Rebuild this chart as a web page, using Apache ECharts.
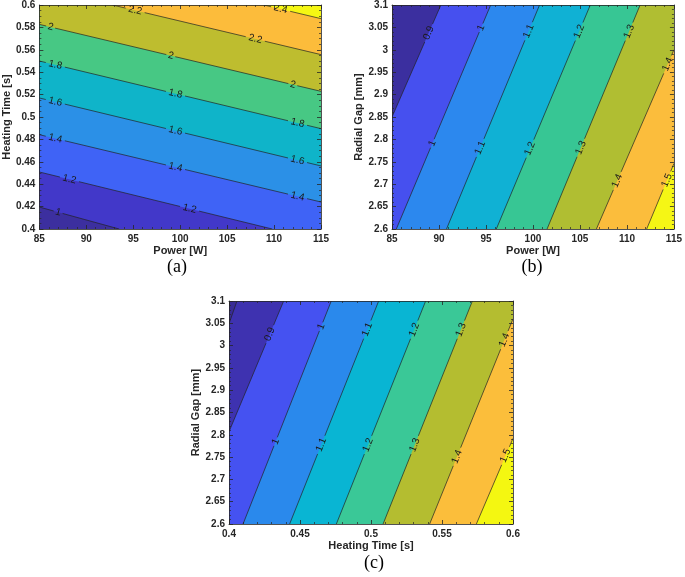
<!DOCTYPE html>
<html><head><meta charset="utf-8">
<script src="https://cdn.jsdelivr.net/npm/echarts@6/dist/echarts.min.js"></script>
<style>html,body{margin:0;padding:0;background:#fff}#c{width:685px;height:577px}</style>
</head><body><div id="c"></div>
<script>
// ---------- data ----------
// Panel (a): Power [W] vs Heating Time [s]
const aXRange = [85, 115];
const aYRange = [0.4, 0.6];
const aLevels = [1, 1.2, 1.4, 1.6, 1.8, 2, 2.2, 2.4];
const aLines = [ // contour line endpoints [x1,y1,x2,y2]
  [85, 0.4196, 93.5, 0.4],
  [85, 0.4509, 109.8, 0.4],
  [85, 0.4842, 115, 0.4241],
  [85, 0.517, 115, 0.4563],
  [85, 0.55, 115, 0.4896],
  [85, 0.5827, 115, 0.5229],
  [92.8, 0.6, 115, 0.5557],
  [108.9, 0.6, 115, 0.5878]
];
const aLabels = [ // [level, x, y]
  [1, 87, 0.415],
  [1.2, 88.2, 0.4443], [1.2, 101, 0.4181],
  [1.4, 86.7, 0.4808], [1.4, 99.5, 0.4552], [1.4, 112.5, 0.4291],
  [1.6, 86.7, 0.5136], [1.6, 99.5, 0.4877], [1.6, 112.5, 0.4614],
  [1.8, 86.7, 0.5466], [1.8, 99.5, 0.5208], [1.8, 112.5, 0.4946],
  [2, 86.2, 0.5803], [2, 99, 0.5548], [2, 112, 0.5289],
  [2.2, 95.2, 0.5952], [2.2, 108, 0.5697],
  [2.4, 110.7, 0.5964]
];
// Panel (b): Power [W] vs Radial Gap [mm]
const bXRange = [85, 115];
const bYRange = [2.6, 3.1];
const bLevels = [0.9, 1, 1.1, 1.2, 1.3, 1.4, 1.5];
const bLines = [
  [85, 2.85, 90.2, 3.1],
  [85.46, 2.6, 95.5, 3.1],
  [90.8, 2.6, 100.7, 3.1],
  [96.1, 2.6, 106.1, 3.1],
  [101.5, 2.6, 111.4, 3.1],
  [106.75, 2.6, 115, 3.0],
  [112.1, 2.6, 115, 2.746]
];
const bLabels = [
  [0.9, 88.9, 3.0375],
  [1, 94.5, 3.049], [1, 89.2, 2.792],
  [1.1, 99.7, 3.04], [1.1, 94.4, 2.781],
  [1.2, 105, 3.04], [1.2, 99.5, 2.781],
  [1.3, 110.3, 3.04], [1.3, 104.9, 2.783],
  [1.4, 114.05, 2.97], [1.4, 108.8, 2.709],
  [1.5, 114.2, 2.709]
];
// Panel (c): Heating Time [s] vs Radial Gap [mm]
const cXRange = [0.4, 0.6];
const cYRange = [2.6, 3.1];
const cLevels = [0.8, 0.9, 1, 1.1, 1.2, 1.3, 1.4, 1.5];
const cLines = [
  [0.4, 3.049, 0.4056, 3.1],
  [0.4, 2.807, 0.4385, 3.1],
  [0.4099, 2.6, 0.472, 3.1],
  [0.4427, 2.6, 0.5054, 3.1],
  [0.4756, 2.6, 0.5385, 3.1],
  [0.5085, 2.6, 0.5714, 3.1],
  [0.5413, 2.6, 0.6, 3.06],
  [0.5742, 2.6, 0.6, 2.792]
];
const cLabels = [
  [0.9, 0.4301, 3.0238],
  [1, 0.4653, 3.042], [1, 0.4331, 2.7845],
  [1.1, 0.4981, 3.035], [1.1, 0.4653, 2.777],
  [1.2, 0.531, 3.035], [1.2, 0.4981, 2.777],
  [1.3, 0.5639, 3.035], [1.3, 0.531, 2.777],
  [1.4, 0.5937, 3.0126], [1.4, 0.5604, 2.751],
  [1.5, 0.5932, 2.755]
];

// ---------- styles ----------
const aColors = ['#3c2f9f','#4238c9','#3f63f6','#2b90e7','#0fb4c9','#47c884','#bebd2f','#fcbc3b','#f5f713'];
const bColors = ['#3b2f9f','#4650ef','#2c88ee','#10b1d4','#37c694','#b0be32','#fbbd3c','#f5f615'];
const cColors = ['#382b96','#3e32b0','#4552f1','#2a89ec','#09b5d3','#3ac897','#b4bd30','#fbbe3b','#f4f711'];

const chart = echarts.init(document.getElementById('c'));

function clipHalf(poly, a, b, s) {
  const out = [];
  const f = p => ((b[0]-a[0])*(p[1]-a[1]) - (b[1]-a[1])*(p[0]-a[0])) * s;
  for (let i = 0; i < poly.length; i++) {
    const p = poly[i], q = poly[(i+1) % poly.length];
    const fp = f(p), fq = f(q);
    if (fp >= 0) out.push(p);
    if ((fp >= 0) !== (fq >= 0)) {
      const t = fp / (fp - fq);
      out.push([p[0] + t*(q[0]-p[0]), p[1] + t*(q[1]-p[1])]);
    }
  }
  return out;
}

function contourRenderer(P) {
  return function (params, api) {
    const c = p => api.coord(p);
    const rect = [[P.xr[0],P.yr[0]],[P.xr[1],P.yr[0]],[P.xr[1],P.yr[1]],[P.xr[0],P.yr[1]]].map(c);
    const ref = c(P.high);
    const kids = [{type:'polygon', shape:{points:rect}, style:{fill:P.colors[0]}}];
    const segs = P.lines.map(l => [c([l[0],l[1]]), c([l[2],l[3]])]);
    segs.forEach(([a,b], k) => {
      const s = Math.sign((b[0]-a[0])*(ref[1]-a[1]) - (b[1]-a[1])*(ref[0]-a[0]));
      const poly = clipHalf(rect, a, b, s);
      if (poly.length > 2) kids.push({type:'polygon', shape:{points:poly}, style:{fill:P.colors[k+1]}});
    });
    segs.forEach(([a,b], k) => {
      const lv = P.levels[k];
      const dx = b[0]-a[0], dy = b[1]-a[1], L = Math.hypot(dx, dy);
      let rot = -Math.atan2(dy, dx);
      if (rot > Math.PI/2) rot -= Math.PI;
      if (rot < -Math.PI/2) rot += Math.PI;
      const txt = String(lv);
      const gaps = [];
      P.labels.filter(q => q[0] === lv).forEach(q => {
        const p = c([q[1], q[2]]);
        const t = ((p[0]-a[0])*dx + (p[1]-a[1])*dy) / (L*L);
        const half = (txt.length*5.2 + 4) / 2 / L;
        gaps.push([t-half, t+half]);
        kids.push({type:'text', x:a[0]+t*dx, y:a[1]+t*dy, rotation:rot, z2:10,
          style:{text:txt, fill:'#1a1a1a', fontSize:10, fontFamily:'Liberation Sans', align:'center', verticalAlign:'middle'}});
      });
      gaps.sort((u,v) => u[0]-v[0]);
      let t0 = 0;
      const addSeg = (t1, t2) => {
        if (t2 > t1) kids.push({type:'line', z2:5,
          shape:{x1:a[0]+t1*dx, y1:a[1]+t1*dy, x2:a[0]+t2*dx, y2:a[1]+t2*dy},
          style:{stroke:'#222', lineWidth:0.7}});
      };
      gaps.forEach(g => { addSeg(t0, g[0]); t0 = Math.max(t0, g[1]); });
      addSeg(t0, 1);
    });
    return {type:'group', children:kids};
  };
}

const axisColor = '#262626';
const fmt = v => String(+(+v).toFixed(3));
function xAx(gi, r, iv, minor, name, top) {
  return {
    type:'value', gridIndex:gi, min:r[0], max:r[1], interval:iv, position: top ? 'top' : 'bottom',
    name: top ? '' : name, nameLocation:'middle', nameGap:16, z:10,
    nameTextStyle:{fontFamily:'Liberation Sans', fontWeight:'bold', fontSize:11, color:axisColor},
    axisLine:{show:true, onZero:false, lineStyle:{color:axisColor, width:0.8}},
    axisTick:{show:true, inside:true, length:4, lineStyle:{color:axisColor, width:0.8}},
    minorTick:{show:true, splitNumber:minor, length:2, lineStyle:{color:axisColor, width:0.7}},
    axisLabel:{show:!top, margin:5, formatter:fmt, fontFamily:'Liberation Sans', fontWeight:'bold', fontSize:10, color:axisColor},
    splitLine:{show:false}
  };
}
function yAx(gi, r, iv, minor, name, right, gap) {
  return {
    type:'value', gridIndex:gi, min:r[0], max:r[1], interval:iv, position: right ? 'right' : 'left',
    name: right ? '' : name, nameLocation:'middle', nameGap:gap, z:10,
    nameTextStyle:{fontFamily:'Liberation Sans', fontWeight:'bold', fontSize:11, color:axisColor},
    axisLine:{show:true, onZero:false, lineStyle:{color:axisColor, width:0.8}},
    axisTick:{show:true, inside:true, length:4, lineStyle:{color:axisColor, width:0.8}},
    minorTick:{show:true, splitNumber:minor, length:2, lineStyle:{color:axisColor, width:0.7}},
    axisLabel:{show:!right, margin:4, formatter:fmt, fontFamily:'Liberation Sans', fontWeight:'bold', fontSize:10, color:axisColor},
    splitLine:{show:false}
  };
}

const panels = [
  {xr:aXRange, yr:aYRange, levels:aLevels, lines:aLines, labels:aLabels, colors:aColors, high:[aXRange[1], aYRange[1]]},
  {xr:bXRange, yr:bYRange, levels:bLevels, lines:bLines, labels:bLabels, colors:bColors, high:[bXRange[1], bYRange[0]]},
  {xr:cXRange, yr:cYRange, levels:cLevels, lines:cLines, labels:cLabels, colors:cColors, high:[cXRange[1], cYRange[0]]}
];

const option = {
  animation:false,
  grid:[
    {left:36, top:5, width:285, height:224},
    {left:392, top:5, width:285, height:224},
    {left:229, top:301, width:284, height:223}
  ],
  xAxis:[
    xAx(0, aXRange, 5, 5, 'Power [W]', false), xAx(0, aXRange, 5, 5, '', true),
    xAx(1, bXRange, 5, 5, 'Power [W]', false), xAx(1, bXRange, 5, 5, '', true),
    xAx(2, cXRange, 0.05, 5, 'Heating Time [s]', false), xAx(2, cXRange, 0.05, 5, '', true)
  ],
  yAxis:[
    yAx(0, aYRange, 0.02, 4, 'Heating Time [s]', false, 22), yAx(0, aYRange, 0.02, 4, '', true, 0),
    yAx(1, bYRange, 0.05, 5, 'Radial Gap [mm]', false, 23), yAx(1, bYRange, 0.05, 5, '', true, 0),
    yAx(2, cYRange, 0.05, 5, 'Radial Gap [mm]', false, 23), yAx(2, cYRange, 0.05, 5, '', true, 0)
  ],
  series: panels.map((P, i) => ({
    type:'custom', xAxisIndex:i*2, yAxisIndex:i*2, clip:true, silent:true,
    renderItem: contourRenderer(P),
    data:[[P.xr[0], P.yr[0]]]
  })),
  graphic:[
    {type:'text', x:177, y:267, style:{text:'(a)', fontFamily:'Liberation Serif', fontSize:18, fill:'#000', align:'center', verticalAlign:'middle'}},
    {type:'text', x:532, y:267, style:{text:'(b)', fontFamily:'Liberation Serif', fontSize:18, fill:'#000', align:'center', verticalAlign:'middle'}},
    {type:'text', x:374, y:563, style:{text:'(c)', fontFamily:'Liberation Serif', fontSize:18, fill:'#000', align:'center', verticalAlign:'middle'}}
  ]
};
chart.setOption(option);
</script>
</body></html>
